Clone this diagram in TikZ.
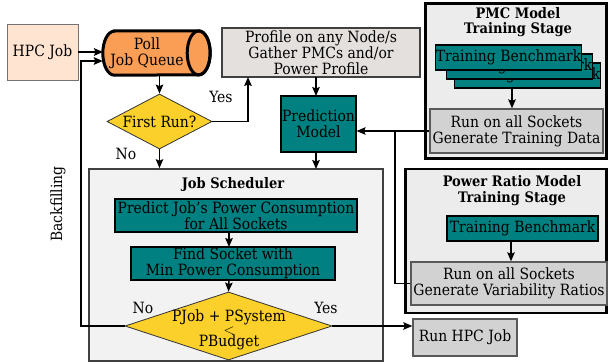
\documentclass[tikz,border=0pt]{standalone}
\usepackage{fontspec}
\setmainfont{DejaVu Serif Condensed}
\usetikzlibrary{shapes.geometric,arrows.meta,calc}
\definecolor{peach}{RGB}{255,228,210}
\definecolor{pollorange}{RGB}{250,157,85}
\definecolor{decyellow}{RGB}{252,208,42}
\definecolor{profgray}{RGB}{228,224,222}
\definecolor{tealbox}{RGB}{0,128,128}
\definecolor{runbox}{RGB}{210,210,210}
\definecolor{stagefill}{RGB}{236,236,236}
\definecolor{schedfill}{RGB}{242,242,242}
\begin{document}
\begin{tikzpicture}[x=1pt,y=-1pt,
  every node/.style={inner sep=0pt, align=center, font=\fontsize{15.5}{16}\selectfont},
  tealstep/.style={rectangle, draw=black, line width=1.1pt, fill=tealbox},
  graystep/.style={rectangle, draw=black!65, line width=1.3pt, fill=runbox},
  stage/.style={rectangle, draw=black, line width=2.4pt, fill=stagefill},
  title/.style={font=\fontsize{14.5}{15.5}\selectfont\bfseries},
  decision/.style={diamond, draw=black!80, line width=0.8pt, fill=decyellow},
  arr/.style={-{Stealth[length=9pt,width=7.5pt,inset=1.5pt]}, line width=1.4pt},
  conn/.style={line width=1.4pt},
  lbl/.style={font=\fontsize{15.5}{16}\selectfont}
]
\useasboundingbox (0,0) rectangle (608,364);

% ---- job entry ----
\node[rectangle, draw=black!55, line width=0.8pt, fill=peach,
      minimum width=71pt, minimum height=56pt] (hpc) at (42.5,52) {HPC Job};

\node[rectangle, minimum width=107pt, minimum height=44pt] (poll) at (156.5,53) {};
\path[fill=pollorange, draw=black, line width=3pt]
  ($(poll.north west)+(11.5,0)$) -- ($(poll.north east)+(-11.5,0)$)
  arc[start angle=90, end angle=-90, x radius=11.5pt, y radius=22pt]
  -- ($(poll.south west)+(11.5,0)$)
  arc[start angle=270, end angle=90, x radius=11.5pt, y radius=22pt] -- cycle;
\draw[line width=3pt] ($(poll.east)+(-11.5,0)$) ellipse[x radius=11.5pt, y radius=22pt];
\node (pollt) at (147,53) {Poll\\Job Queue};

\node[decision, minimum width=105pt, minimum height=55pt] (first) at (159.5,121.5) {};
\node at (first) {First Run?};

% ---- profiling and prediction ----
\node[rectangle, draw=black!75, line width=1.1pt, fill=profgray,
      minimum width=198pt, minimum height=49pt] (profile) at (321,52.5)
      {Profile on any Node/s\\Gather PMCs and/or\\Power Profile};
\node[tealstep, minimum width=75pt, minimum height=56pt] (pred) at (318.5,124) {Prediction\\Model};

% ---- job scheduler ----
\node[rectangle, draw=black!75, line width=1.6pt, fill=schedfill,
      minimum width=294pt, minimum height=192pt] (sched) at (236,265) {};
\node[title] (schedt) at (233,184) {Job Scheduler};
\node[tealstep, minimum width=242pt, minimum height=33pt] (predict) at (236,215.5)
      {Predict Job's Power Consumption\\for All Sockets};
\node[tealstep, minimum width=204pt, minimum height=33pt] (find) at (233,263.5)
      {Find Socket with\\Min Power Consumption};
\node[decision, minimum width=207pt, minimum height=68pt] (pj) at (228.5,326) {};
\node[font=\fontsize{15.5}{12.5}\selectfont] (pjt) at (229,330) {PJob + PSystem\\$<$\\PBudget};

\node[graystep, minimum width=104pt, minimum height=37pt] (run) at (465,337.5) {Run HPC Job};

% ---- PMC model training stage ----
\node[stage, minimum width=181pt, minimum height=155pt] (pmc) at (516,81) {};
\node[title] (pmct) at (518,22) {PMC Model\\Training Stage};
\node[tealstep, minimum width=145pt, minimum height=25pt] (tbc) at (527.5,75.5) {Training Benchmark};
\node[tealstep, minimum width=145pt, minimum height=25pt] (tbb) at (519.5,66.5) {Training Benchmark};
\node[tealstep, minimum width=145pt, minimum height=25pt] (tba) at (508.5,57.5) {Training Benchmark};
\node[graystep, minimum width=173pt, minimum height=44pt] (data) at (516.5,131)
      {Run on all Sockets\\Generate Training Data};

% ---- power ratio model training stage ----
\node[stage, minimum width=201pt, minimum height=144pt] (pr) at (506,241) {};
\node[title] (prt) at (512,190.5) {Power Ratio Model\\Training Stage};
\node[tealstep, minimum width=151pt, minimum height=25pt] (tb) at (522.5,228.5) {Training Benchmark};
\node[graystep, minimum width=196pt, minimum height=43pt] (var) at (509,283.5)
      {Run on all Sockets\\Generate Variability Ratios};

% ---- connectors ----
\draw[arr, line width=2pt] (hpc.east |- 0,52) -- (103,52);
\coordinate (bftop) at (81,61);
\draw[arr, line width=2.4pt] (pj.west) -| (bftop) -- (bftop -| poll.west);
\draw[arr] (poll.south -| first.north) -- (first.north);
\coordinate (yesin) at (248,77);
\draw[arr] (first.east) -| (yesin);
\draw[arr] (first.south) -- (first.south |- sched.north);
\draw[arr] (316,77) -- (316,96);
\draw[arr] (316,152) -- (316,169);
\coordinate (jn) at (395,131);
\draw[arr] (data.west) -- (data.west -| pred.east);
\draw[conn] (var.west) -| (jn);
\draw[arr] (229,232) -- (229,247);
\draw[arr] (229,280) -- (pj.north);
\draw[arr] (pj.east) -- (pj.east -| run.west);
\draw[arr] (512,88) -- (data.north -| 512,0);
\draw[arr] (511,241) -- (var.north -| 511,0);

% ---- labels ----
\node[lbl] at (221,97) {Yes};
\node[lbl] at (126,154) {No};
\node[lbl] at (143,308) {No};
\node[lbl] at (326,308) {Yes};
\node[lbl, rotate=90] at (58,204) {Backfilling};
\end{tikzpicture}
\end{document}
